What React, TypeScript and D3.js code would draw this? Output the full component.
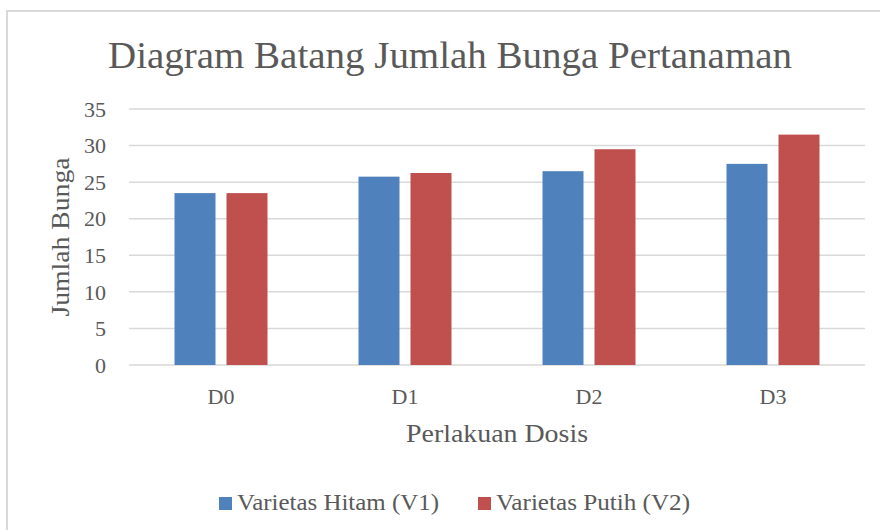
import React from "react";
import * as d3 from "d3";

const categories = ["D0", "D1", "D2", "D3"];
const seriesNames = ["Varietas Hitam (V1)", "Varietas Putih (V2)"];
const hitamValues = [23.5, 25.75, 26.5, 27.5];
const putihValues = [23.5, 26.25, 29.5, 31.5];
const yTicks = [0, 5, 10, 15, 20, 25, 30, 35];

const colors = ["#4f81bd", "#c0504d"];
const textColor = "#595959";
const font = "'Liberation Serif', 'DejaVu Serif', serif";

const Bars = ({ x0, x1, y }) => {
  const values = [hitamValues, putihValues];
  return (
    <g>
      {categories.map((cat, i) => (
        <g key={cat} transform={`translate(${x0(cat)}, 0)`}>
          {seriesNames.map((s, j) => (
            <rect
              key={s}
              x={x1(s)}
              y={y(values[j][i])}
              width={x1.bandwidth()}
              height={y(0) - y(values[j][i])}
              fill={colors[j]}
            />
          ))}
        </g>
      ))}
    </g>
  );
};

const App = () => {
  const left = 129, right = 865, top = 109, bottom = 365;

  const x0 = d3.scaleBand()
    .domain(categories)
    .range([left, right])
    .paddingInner(91 / 184)
    .paddingOuter(91 / 368);

  const x1 = d3.scaleBand()
    .domain(seriesNames)
    .range([0, x0.bandwidth()])
    .paddingInner(0.2115);

  const y = d3.scaleLinear().domain([0, 35]).range([bottom, top]);

  return (
    <svg width="880" height="530" style={{ position: "absolute", left: 0, top: 0, background: "#fff" }}>
      <rect x="7" y="11" width="900" height="560" fill="#fff" stroke="#d9d9d9" strokeWidth="2" />

      <text x="108" y="67.5" fontFamily={font} fontSize="37" fill={textColor}
        textLength="684" lengthAdjust="spacingAndGlyphs">
        Diagram Batang Jumlah Bunga Pertanaman
      </text>

      {yTicks.map(t => (
        <g key={t}>
          <line x1={left} x2={right} y1={y(t)} y2={y(t)} stroke="#d9d9d9" strokeWidth="1.5" />
          <text x="106" y={y(t)} dy="0.35em" textAnchor="end" fontFamily={font}
            fontSize="22" fill={textColor}>{t}</text>
        </g>
      ))}

      <Bars x0={x0} x1={x1} y={y} />

      {categories.map(cat => (
        <text key={cat} x={x0(cat) + x0.bandwidth() / 2} y="404" textAnchor="middle"
          fontFamily={font} fontSize="22" fill={textColor}>{cat}</text>
      ))}

      <text x={(left + right) / 2} y="442" textAnchor="middle" fontFamily={font}
        fontSize="25" fill={textColor} textLength="182" lengthAdjust="spacingAndGlyphs">
        Perlakuan Dosis
      </text>

      <text transform={`translate(69, ${(top + bottom) / 2}) rotate(-90)`} textAnchor="middle"
        fontFamily={font} fontSize="25" fill={textColor} textLength="159" lengthAdjust="spacingAndGlyphs">
        Jumlah Bunga
      </text>

      <rect x="219" y="497" width="13" height="13" fill={colors[0]} />
      <text x="237" y="510" fontFamily={font} fontSize="24" fill={textColor}
        textLength="202" lengthAdjust="spacingAndGlyphs">{seriesNames[0]}</text>
      <rect x="478" y="497" width="13" height="13" fill={colors[1]} />
      <text x="496" y="510" fontFamily={font} fontSize="24" fill={textColor}
        textLength="194" lengthAdjust="spacingAndGlyphs">{seriesNames[1]}</text>
    </svg>
  );
};

export default App;
